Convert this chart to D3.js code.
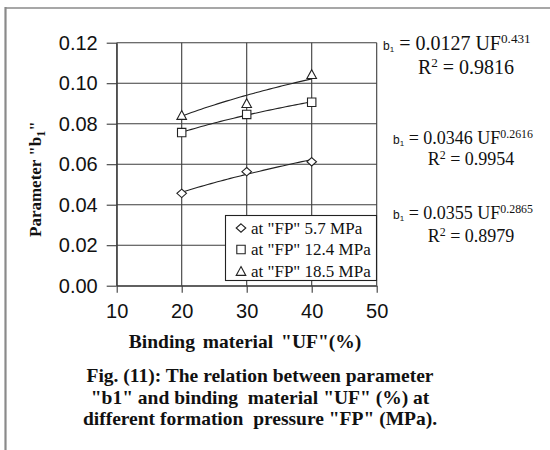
<!DOCTYPE html>
<html>
<head>
<meta charset="utf-8">
<script src="https://cdn.jsdelivr.net/npm/d3@7"></script>
<style>
  html, body { margin: 0; padding: 0; background: #fff; }
  svg { display: block; }
  .serif { font-family: "Liberation Serif", "Times New Roman", serif; }
  .sans { font-family: "Liberation Sans", Arial, sans-serif; }
</style>
</head>
<body>
<svg id="chart" width="550" height="450"></svg>
<script>
// Binding material "UF" (%) on the x axis
const ufValues = [20, 30, 40];

// Parameter b1 at each formation pressure
const b1At57 = [0.0456, 0.0563, 0.0612];
const b1At124 = [0.0756, 0.0846, 0.0906];
const b1At185 = [0.0843, 0.0902, 0.1045];

const seriesNames = ['at "FP" 5.7 MPa', 'at "FP" 12.4 MPa', 'at "FP" 18.5 MPa'];

// Power-law trendlines b1 = a * UF^k with their R² values
const trendA = ["0.0127", "0.0346", "0.0355"];
const trendK = ["0.431", "0.2616", "0.2865"];
const trendR2 = ["0.9816", "0.9954", "0.8979"];

const xTicks = [10, 20, 30, 40, 50];
const yTicks = [0, 0.02, 0.04, 0.06, 0.08, 0.10, 0.12];

const svg = d3.select("#chart");

// outer frame (left and top edges)
svg.append("line").attr("x1", 5.5).attr("x2", 5.5).attr("y1", 7).attr("y2", 450)
  .attr("stroke", "#8a8a8a").attr("stroke-width", 2.2);
svg.append("line").attr("x1", 5).attr("x2", 550).attr("y1", 8).attr("y2", 8)
  .attr("stroke", "#8a8a8a").attr("stroke-width", 1.6);

const x = d3.scaleLinear().domain([10, 50]).range([116.7, 376.7]);
const y = d3.scaleLinear().domain([0, 0.12]).range([285.7, 42.7]);

const gridColor = "#3c3c3c";

// horizontal grid
svg.append("g").selectAll("line").data(yTicks).join("line")
  .attr("x1", x(10)).attr("x2", x(50))
  .attr("y1", d => y(d)).attr("y2", d => y(d))
  .attr("stroke", gridColor).attr("stroke-width", 1.1);
// vertical grid incl. frame at 10 and 50
svg.append("g").selectAll("line").data(xTicks).join("line")
  .attr("x1", d => x(d)).attr("x2", d => x(d))
  .attr("y1", y(0.12)).attr("y2", y(0))
  .attr("stroke", gridColor).attr("stroke-width", 1.1);

// y axis
const yAxis = svg.append("g").attr("transform", `translate(${x(10)},0)`)
  .call(d3.axisLeft(y).tickValues(yTicks).tickFormat(d3.format(".2f"))
    .tickSize(10).tickSizeOuter(0).tickPadding(9));
yAxis.select(".domain").attr("stroke", gridColor).attr("stroke-width", 1.1);
yAxis.selectAll(".tick line").attr("stroke", gridColor).attr("stroke-width", 1.1);
yAxis.selectAll("text").attr("class", "sans").attr("font-size", 20).attr("fill", "#111");

// x axis
const xAxis = svg.append("g").attr("transform", `translate(0,${y(0)})`)
  .call(d3.axisBottom(x).tickValues(xTicks).tickFormat(d3.format("d"))
    .tickSize(7).tickSizeOuter(0).tickPadding(11));
xAxis.select(".domain").attr("stroke", gridColor).attr("stroke-width", 1.1);
xAxis.selectAll(".tick line").attr("stroke", gridColor).attr("stroke-width", 1.1);
xAxis.selectAll("text").attr("class", "sans").attr("font-size", 20).attr("fill", "#111");

// marker shapes
const diamond = { draw(c, s) { const w = 4.8, h = 4.2; c.moveTo(0, -h); c.lineTo(w, 0); c.lineTo(0, h); c.lineTo(-w, 0); c.closePath(); } };
const square = { draw(c, s) { const r = 4.2; c.rect(-r, -r, 2 * r, 2 * r); } };
const triangle = { draw(c, s) { const w = 4.8, h = 4.4; c.moveTo(0, -h); c.lineTo(w, h); c.lineTo(-w, h); c.closePath(); } };
const shapes = [diamond, square, triangle];

const series = [b1At57, b1At124, b1At185];

// trendlines from the fitted equations
const line = d3.line().x(d => x(d[0])).y(d => y(d[1]));
const ufRange = d3.range(20, 40.01, 0.5);
series.forEach((vals, i) => {
  const a = +trendA[i], k = +trendK[i];
  svg.append("path")
    .datum(ufRange.map(u => [u, a * Math.pow(u, k)]))
    .attr("d", line).attr("fill", "none")
    .attr("stroke", "#222").attr("stroke-width", 1.1);
});

// data markers
series.forEach((vals, i) => {
  svg.append("g").selectAll("path").data(vals).join("path")
    .attr("transform", (d, j) => `translate(${x(ufValues[j])},${y(d)})`)
    .attr("d", d3.symbol().type(shapes[i]))
    .attr("fill", "#fff").attr("stroke", "#222").attr("stroke-width", 1.1);
});

// legend
const lg = svg.append("g");
lg.append("rect").attr("x", 225.5).attr("y", 215.5).attr("width", 151).attr("height", 65)
  .attr("fill", "#fff").attr("stroke", "#222").attr("stroke-width", 1.1);
const legendRows = [228, 249.5, 271];
seriesNames.forEach((name, i) => {
  lg.append("path").attr("transform", `translate(241,${legendRows[i]})`)
    .attr("d", d3.symbol().type(shapes[i]))
    .attr("fill", "#fff").attr("stroke", "#222").attr("stroke-width", 1.1);
  lg.append("text").attr("class", "serif").attr("x", 251).attr("y", legendRows[i] + 5.5)
    .attr("font-size", 17).attr("fill", "#111").text(name);
});

// equation labels
const eqPos = [
  { x: 383, y1: 50, y2: 74, fs: 20 },
  { x: 393, y1: 144, y2: 165, fs: 18 },
  { x: 393, y1: 219, y2: 242, fs: 18 }
];
eqPos.forEach((p, i) => {
  const t = svg.append("text").attr("class", "serif").attr("x", p.x).attr("y", p.y1)
    .attr("fill", "#111").attr("font-size", p.fs);
  t.append("tspan").attr("class", "sans").attr("font-size", 12).text("b");
  t.append("tspan").attr("class", "sans").attr("font-size", 8).attr("dy", 2).text("1");
  t.append("tspan").attr("dy", -2).text(" = " + trendA[i] + " UF");
  t.append("tspan").attr("font-size", p.fs * 0.66).attr("dy", -p.fs * 0.34).text(trendK[i]);
  const r = svg.append("text").attr("class", "serif").attr("x", p.x + (i === 0 ? 83 : 78)).attr("y", p.y2)
    .attr("text-anchor", "middle").attr("fill", "#111").attr("font-size", p.fs);
  r.append("tspan").text("R");
  r.append("tspan").attr("font-size", p.fs * 0.66).attr("dy", -p.fs * 0.34).text("2");
  r.append("tspan").attr("dy", p.fs * 0.34).text(" = " + trendR2[i]);
});

// axis titles
const yl = svg.append("text").attr("class", "serif").attr("font-weight", "bold")
  .attr("font-size", 17).attr("fill", "#111")
  .attr("transform", "translate(41,237) rotate(-90)");
yl.append("tspan").text('Parameter "b');
yl.append("tspan").attr("font-size", 12).attr("dy", 4).text("1");
yl.append("tspan").attr("dy", -4).text('"');

svg.append("text").attr("class", "serif").attr("font-weight", "bold")
  .attr("font-size", 19.5).attr("fill", "#111").attr("text-anchor", "middle")
  .attr("word-spacing", 3)
  .attr("x", 245).attr("y", 348).text('Binding material "UF"(%)');

// figure caption
const caption = [
  'Fig. (11): The relation between parameter',
  '"b1" and binding  material "UF" (%) at',
  'different formation  pressure "FP" (MPa).'
];
svg.append("g").selectAll("text").data(caption).join("text")
  .attr("class", "serif").attr("font-weight", "bold").attr("font-size", 19.5)
  .attr("fill", "#111").attr("text-anchor", "middle")
  .attr("x", 260).attr("y", (d, i) => 382 + i * 21.5)
  .attr("xml:space", "preserve").style("white-space", "pre")
  .text(d => d);
</script>
</body>
</html>
